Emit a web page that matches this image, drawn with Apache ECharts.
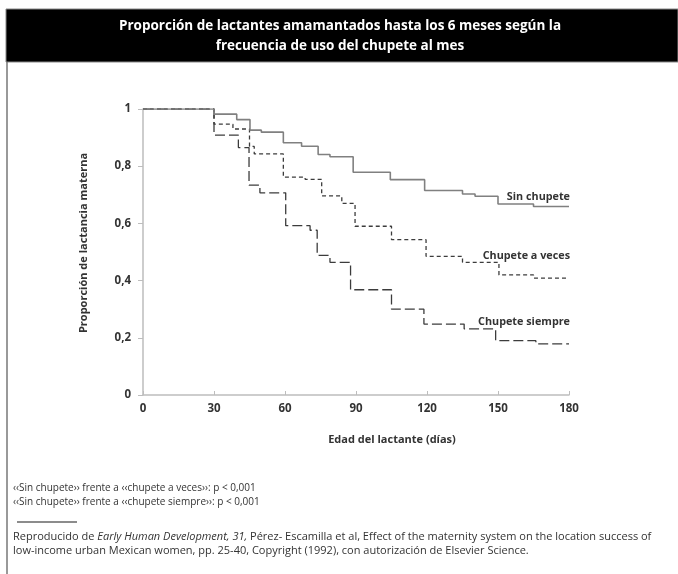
<!DOCTYPE html>
<html>
<head>
<meta charset="utf-8">
<script src="https://cdn.jsdelivr.net/npm/echarts@6/dist/echarts.min.js"></script>
<style>
  html, body { margin: 0; padding: 0; background: #fff; }
  #chart { width: 678px; height: 574px; }
</style>
</head>
<body>
<div id="chart"></div>
<script>
// Kaplan-Meier style survival curves: breastfeeding proportion by pacifier use
const seriesNames = ['Sin chupete', 'Chupete a veces', 'Chupete siempre'];

const sinDias = [0, 30, 39.6, 45.2, 50, 59.3, 67, 74, 79, 88.8, 104.5, 119, 135, 140.3, 150, 165, 180];
const sinVal  = [1, 0.982, 0.963, 0.926, 0.919, 0.882, 0.870, 0.841, 0.833, 0.779, 0.753, 0.715, 0.703, 0.695, 0.668, 0.659, 0.659];

const aVecesDias = [0, 30, 38, 45, 47, 59.3, 68.5, 75.5, 84, 89.6, 105, 119.6, 135, 150.4, 165, 180];
const aVecesVal  = [1, 0.947, 0.930, 0.869, 0.843, 0.762, 0.754, 0.696, 0.670, 0.590, 0.543, 0.485, 0.464, 0.420, 0.409, 0.409];

const siempreDias = [0, 30, 40.3, 44.8, 49.4, 60.3, 70.6, 73.6, 79, 87.7, 105, 118.7, 135.7, 149, 166, 180];
const siempreVal  = [1, 0.909, 0.865, 0.734, 0.707, 0.592, 0.576, 0.488, 0.464, 0.368, 0.300, 0.248, 0.231, 0.190, 0.179, 0.179];

const xTicks = [0, 30, 60, 90, 120, 150, 180];
const yTicks = [0, 0.2, 0.4, 0.6, 0.8, 1];

const titleLines = [
  'Proporción de lactantes amamantados hasta los 6 meses según la',
  'frecuencia de uso del chupete al mes'
];
const notes = [
  '‹‹Sin chupete›› frente a ‹‹chupete a veces››: p < 0,001',
  '‹‹Sin chupete›› frente a ‹‹chupete siempre››: p < 0,001'
];

const FONT = '"Open Sans", sans-serif';

function pairs(days, vals) {
  return days.map((d, i) => [d, vals[i]]);
}

// curve name written just above the right end of each curve
function endLabel(dy) {
  return {
    show: true,
    formatter: '{a}',
    align: 'right',
    verticalAlign: 'middle',
    distance: 0,
    offset: [1, dy],
    fontFamily: FONT,
    fontWeight: 'bold',
    fontSize: 10.8,
    color: '#333'
  };
}

const chart = echarts.init(document.getElementById('chart'), null, { renderer: 'canvas' });

const option = {
  backgroundColor: '#fff',
  animation: false,
  grid: { left: 143, right: 109, top: 109, bottom: 179, containLabel: false, outerBoundsMode: 'none' },
  xAxis: {
    type: 'value',
    min: 0, max: 180, interval: 30,
    axisLine: { show: true, lineStyle: { color: '#bdbdbd', width: 1.5 } },
    axisTick: { show: true, inside: true, length: 4, lineStyle: { color: '#bdbdbd' } },
    splitLine: { show: false },
    axisLabel: {
      margin: 8,
      fontFamily: FONT, fontWeight: 'bold', fontSize: 11.5, color: '#333',
      formatter: v => xTicks.includes(v) ? String(v) : ''
    }
  },
  yAxis: {
    type: 'value',
    min: 0, max: 1, interval: 0.2,
    axisLine: { show: true, lineStyle: { color: '#bdbdbd', width: 1.5 } },
    axisTick: { show: true, inside: false, length: 5, lineStyle: { color: '#bdbdbd' } },
    splitLine: { show: false },
    axisLabel: {
      margin: 12,
      fontFamily: FONT, fontWeight: 'bold', fontSize: 11.5, color: '#333',
      formatter: v => {
        const t = yTicks.find(k => Math.abs(k - v) < 1e-9);
        return t === undefined ? '' : String(+t.toFixed(1)).replace('.', ',');
      }
    }
  },
  series: [
    {
      name: seriesNames[0], type: 'line', step: 'end', symbol: 'none',
      lineStyle: { color: '#808080', width: 1.6, type: 'solid' },
      endLabel: endLabel(-10),
      data: pairs(sinDias, sinVal),
      z: 3
    },
    {
      name: seriesNames[1], type: 'line', step: 'end', symbol: 'none',
      lineStyle: { color: '#3c3c3c', width: 1.3, type: [4, 3] },
      endLabel: endLabel(-22),
      data: pairs(aVecesDias, aVecesVal),
      z: 2
    },
    {
      name: seriesNames[2], type: 'line', step: 'end', symbol: 'none',
      lineStyle: { color: '#3c3c3c', width: 1.3, type: [10, 4] },
      endLabel: endLabel(-22),
      data: pairs(siempreDias, siempreVal),
      z: 2
    }
  ],
  graphic: [
    // header band
    { type: 'rect', shape: { x: 6, y: 9, width: 672, height: 53 },
      style: { fill: '#000', stroke: '#888', lineWidth: 1 }, z: 0 },
    { type: 'text', x: 340, y: 26,
      style: { text: titleLines[0], fill: '#fff', font: 'bold 13.5px ' + FONT, align: 'center', verticalAlign: 'middle' } },
    { type: 'text', x: 340, y: 46,
      style: { text: titleLines[1], fill: '#fff', font: 'bold 13.5px ' + FONT, align: 'center', verticalAlign: 'middle' } },
    // left frame line
    { type: 'line', shape: { x1: 7, y1: 62, x2: 7, y2: 574 }, style: { stroke: '#777', lineWidth: 1.5 } },
    // axis titles
    { type: 'text', x: 84, y: 243, rotation: Math.PI / 2,
      style: { text: 'Proporción de lactancia materna', fill: '#333', font: 'bold 11px ' + FONT, align: 'center', verticalAlign: 'middle' } },
    { type: 'text', x: 392, y: 440,
      style: { text: 'Edad del lactante (días)', fill: '#333', font: 'bold 11px ' + FONT, align: 'center', verticalAlign: 'middle' } },
    // significance notes
    { type: 'text', x: 13, y: 488,
      style: { text: notes[0], fill: '#333', font: '10px ' + FONT, align: 'left', verticalAlign: 'middle' } },
    { type: 'text', x: 13, y: 502,
      style: { text: notes[1], fill: '#333', font: '10px ' + FONT, align: 'left', verticalAlign: 'middle' } },
    // separator
    { type: 'line', shape: { x1: 17, y1: 522, x2: 77, y2: 522 }, style: { stroke: '#666', lineWidth: 1.5 } },
    // source
    { type: 'text', x: 13, y: 537,
      style: {
        text: '{n|Reproducido de }{i|Early Human Development, 31,}{n| Pérez- Escamilla et al, Effect of the maternity system on the location success of}',
        align: 'left', verticalAlign: 'middle',
        rich: {
          n: { fill: '#333', font: '11px ' + FONT },
          i: { fill: '#333', font: 'italic 11px ' + FONT }
        }
      } },
    { type: 'text', x: 13, y: 551,
      style: { text: 'low-income urban Mexican women, pp. 25-40, Copyright (1992), con autorización de Elsevier Science.',
        fill: '#333', font: '11px ' + FONT, align: 'left', verticalAlign: 'middle' } }
  ]
};

chart.setOption(option);
</script>
</body>
</html>
